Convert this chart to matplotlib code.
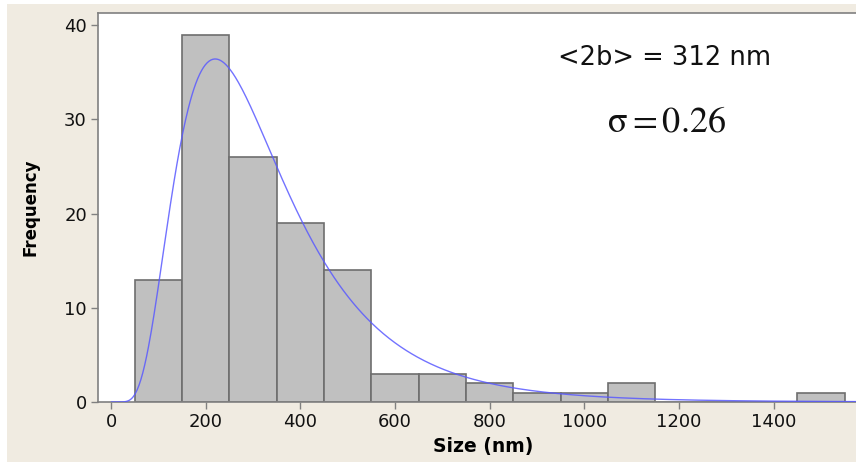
import numpy as np
import matplotlib.pyplot as plt
from matplotlib.patches import Rectangle

# Histogram data (bins of 100 nm)
bin_left = [50, 150, 250, 350, 450, 550, 650, 750, 850, 950, 1050, 1150, 1250, 1350, 1450]
counts = [13, 39, 26, 19, 14, 3, 3, 2, 1, 1, 2, 0, 0, 0, 1]
bin_width = 100

# Lognormal fit parameters (estimated from the drawn curve)
fit_mu = 5.68
fit_s = 0.535

x_ticks = [0, 200, 400, 600, 800, 1000, 1200, 1400]
y_ticks = [0, 10, 20, 30, 40]

W, H = 856, 462
fig = plt.figure(figsize=(W / 100, H / 100), dpi=100, facecolor='white')
fig.patches.append(Rectangle((7 / W, 0), 1, 1 - 4 / H, transform=fig.transFigure,
                             facecolor='#f0ebe1', edgecolor='none', zorder=-10))

ax = fig.add_axes([98 / W, 60 / H, 770 / W, 389 / H])
ax.set_facecolor('white')

ax.bar(bin_left, counts, width=bin_width, align='edge', color='#c0c0c0',
       edgecolor='#6e6e6e', linewidth=1.2, zorder=2)

n_total = sum(counts)
xs = np.linspace(1, 1600, 800)
pdf = np.exp(-(np.log(xs) - fit_mu) ** 2 / (2 * fit_s ** 2)) / (xs * fit_s * np.sqrt(2 * np.pi))
ax.plot(xs, pdf * n_total * bin_width, color='#5a5aff', alpha=0.85, linewidth=1.0, zorder=3)

ax.set_xlim(-27.5, 1599)
ax.set_ylim(0, 41.3)
ax.set_xticks(x_ticks)
ax.set_yticks(y_ticks)
ax.tick_params(direction='out', length=5, width=1, color='#808080',
               labelsize=13, labelcolor='#111111', pad=3)

for side in ['left', 'bottom', 'top']:
    ax.spines[side].set_color('#808080')
    ax.spines[side].set_linewidth(1.2)
ax.spines['right'].set_visible(False)

ax.set_xlabel('Size (nm)', fontsize=13.5, fontweight='bold', labelpad=4)
ax.set_ylabel('Frequency', fontsize=12, fontweight='bold', labelpad=18)

plt.rcParams['mathtext.fontset'] = 'stix'
ax.text(0.736, 0.884, '<2b> = 312 nm', transform=ax.transAxes, fontsize=18.5,
        ha='center', va='center', color='#111111')
ax.text(0.738, 0.72, r'$\mathrm{\sigma} = 0.26$', transform=ax.transAxes, fontsize=26,
        ha='center', va='center', color='#111111')

fig.savefig('out.png', dpi=100, facecolor=fig.get_facecolor())
